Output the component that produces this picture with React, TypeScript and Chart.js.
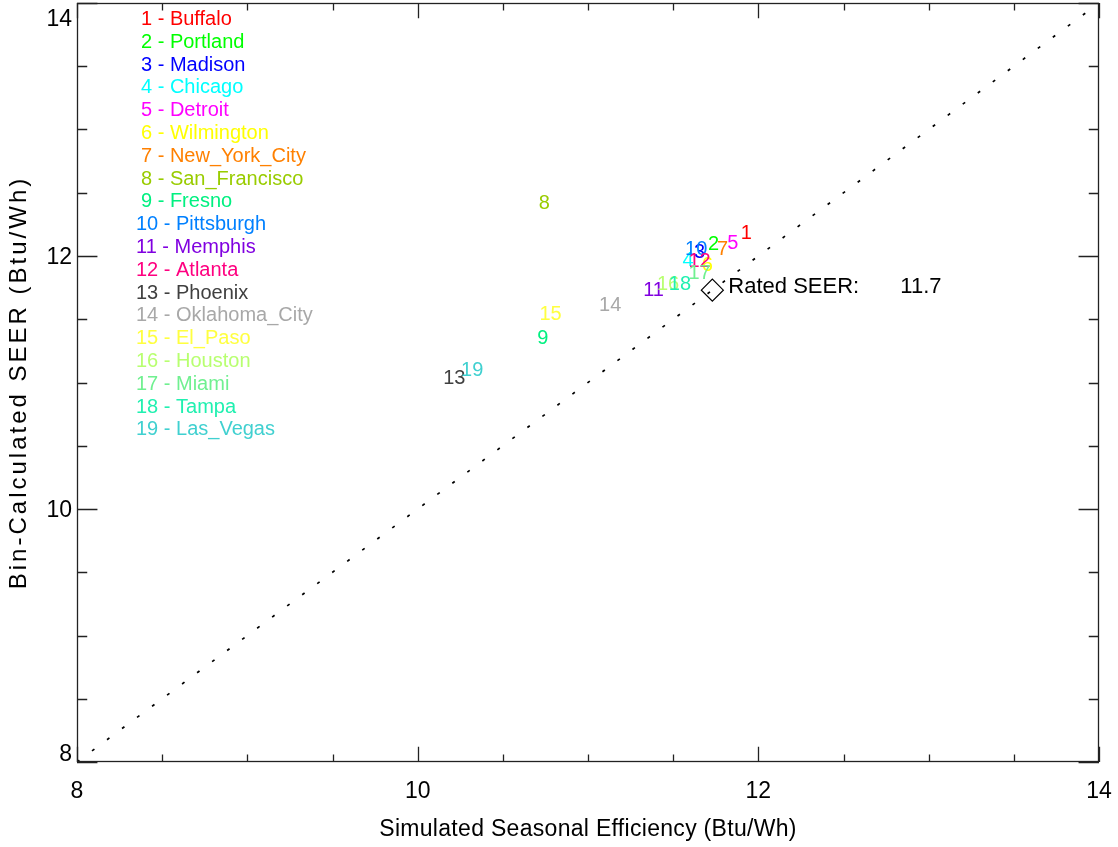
import { useEffect, useRef } from "react";
import { Chart, registerables } from "chart.js";

Chart.register(...registerables);

const cityNames = [
  "Buffalo", "Portland", "Madison", "Chicago", "Detroit", "Wilmington",
  "New_York_City", "San_Francisco", "Fresno", "Pittsburgh", "Memphis",
  "Atlanta", "Phoenix", "Oklahoma_City", "El_Paso", "Houston", "Miami",
  "Tampa", "Las_Vegas",
];
const cityColors = [
  "#ff0000", "#00ff00", "#0000ff", "#00ffff", "#ff00ff", "#ffff00",
  "#ff8000", "#99cc00", "#00f080", "#0080ff", "#8000e0", "#ff0080",
  "#404040", "#a8a8a8", "#ffff40", "#b8ff70", "#70f090", "#20f0b0",
  "#40d0d0",
];
const simulatedEff = [
  11.93, 11.737, 11.655, 11.587, 11.85, 11.70, 11.79, 10.744, 10.735, 11.635,
  11.385, 11.655, 10.215, 11.13, 10.78, 11.47, 11.655, 11.54, 10.32,
];
const binSeer = [
  12.19, 12.10, 12.04, 11.98, 12.11, 11.94, 12.06, 12.43, 11.36, 12.063,
  11.74, 11.97, 11.04, 11.62, 11.55, 11.79, 11.87, 11.79, 11.11,
];
const ratedSeer = 11.73;
const axisMin = 8;
const axisMax = 14;
const majorTicks = [8, 10, 12, 14];
const minorStep = 0.5;
const xTitle = "Simulated Seasonal Efficiency (Btu/Wh)";
const yTitle = "Bin-Calculated SEER (Btu/Wh)";

const FONT = '"Liberation Sans", Arial, Helvetica, sans-serif';

const idlPlugin = {
  id: "idlPlot",
  afterDatasetsDraw(chart: any) {
    const { ctx, chartArea: a, scales } = chart;
    const xs = scales.x;
    const ys = scales.y;
    ctx.save();
    // frame
    ctx.strokeStyle = "#222";
    ctx.lineWidth = 1.3;
    ctx.strokeRect(a.left + 0.5, a.top + 0.5, a.right - a.left - 1, a.bottom - a.top - 1);
    // ticks
    const h = a.bottom - a.top;
    const w = a.right - a.left;
    const xMajLen = 0.02 * h;
    const yMajLen = 0.02 * w;
    ctx.beginPath();
    for (let v = axisMin; v <= axisMax + 1e-9; v += minorStep) {
      const isMajor = majorTicks.some((t) => Math.abs(t - v) < 1e-9);
      const px = Math.round(xs.getPixelForValue(v)) + 0.5;
      const lx = isMajor ? xMajLen : xMajLen / 2;
      ctx.moveTo(px, a.bottom);
      ctx.lineTo(px, a.bottom - lx);
      ctx.moveTo(px, a.top);
      ctx.lineTo(px, a.top + lx);
      const py = Math.round(ys.getPixelForValue(v)) + 0.5;
      const ly = isMajor ? yMajLen : yMajLen / 2;
      ctx.moveTo(a.left, py);
      ctx.lineTo(a.left + ly, py);
      ctx.moveTo(a.right, py);
      ctx.lineTo(a.right - ly, py);
    }
    ctx.stroke();

    // tick labels
    ctx.fillStyle = "#000";
    ctx.font = `23px ${FONT}`;
    ctx.textAlign = "center";
    ctx.textBaseline = "alphabetic";
    majorTicks.forEach((t) => {
      ctx.fillText(String(t), xs.getPixelForValue(t), a.bottom + 36);
    });
    ctx.textAlign = "right";
    majorTicks.forEach((t) => {
      let py = ys.getPixelForValue(t);
      py = Math.min(Math.max(py, a.top + 15), a.bottom - 9);
      ctx.fillText(String(t), a.left - 5, py + 8);
    });

    // axis titles
    ctx.font = `23px ${FONT}`;
    ctx.textAlign = "center";
    (ctx as any).letterSpacing = "0.3px";
    ctx.fillText(xTitle, (a.left + a.right) / 2, a.bottom + 74);
    ctx.save();
    ctx.translate(26, (a.top + a.bottom) / 2);
    ctx.rotate(-Math.PI / 2);
    ctx.font = `24px ${FONT}`;
    (ctx as any).letterSpacing = "3px";
    ctx.fillText(yTitle, 0, 0);
    ctx.restore();
    (ctx as any).letterSpacing = "0px";

    // city number labels at data points
    ctx.font = `20px ${FONT}`;
    ctx.textAlign = "center";
    cityNames.forEach((_, i) => {
      const meta = chart.getDatasetMeta(i + 2);
      const el = meta.data[0];
      if (!el) return;
      ctx.fillStyle = cityColors[i];
      ctx.fillText(String(i + 1), el.x, el.y + 7);
    });

    // rated SEER text next to diamond
    const rMeta = chart.getDatasetMeta(1);
    const rEl = rMeta.data[0];
    if (rEl) {
      ctx.fillStyle = "#000";
      ctx.font = `22px ${FONT}`;
      ctx.textAlign = "left";
      ctx.fillText("Rated SEER:", rEl.x + 16, rEl.y + 3);
      ctx.fillText(ratedSeer.toFixed(1), rEl.x + 188, rEl.y + 3);
    }

    // legend list
    ctx.font = `20px ${FONT}`;
    ctx.textAlign = "left";
    cityNames.forEach((name, i) => {
      ctx.fillStyle = cityColors[i];
      const lx = i < 9 ? 141 : 136;
      const ly = 18 + i * 22.8;
      ctx.fillText(`${i + 1} - ${name}`, lx, ly + 7);
    });
    ctx.restore();
  },
};

export default function App() {
  const ref = useRef<HTMLCanvasElement | null>(null);
  useEffect(() => {
    if (!ref.current) return;
    const datasets: any[] = [
      {
        label: "diagonal",
        type: "line",
        data: [
          { x: axisMin, y: axisMin },
          { x: axisMax, y: axisMax },
        ],
        borderColor: "#000",
        borderWidth: 1.7,
        borderDash: [3, 15.7],
        pointRadius: 0,
        showLine: true,
        fill: false,
      },
      {
        label: "rated",
        type: "scatter",
        data: [{ x: ratedSeer, y: ratedSeer }],
        pointStyle: "rectRot",
        pointRadius: 11,
        borderColor: "#000",
        borderWidth: 1.2,
        backgroundColor: "rgba(0,0,0,0)",
      },
      ...cityNames.map((name, i) => ({
        label: name,
        type: "scatter",
        data: [{ x: simulatedEff[i], y: binSeer[i] }],
        pointRadius: 0,
        borderColor: cityColors[i],
        backgroundColor: cityColors[i],
      })),
    ];
    const chart = new Chart(ref.current, {
      type: "scatter",
      data: { datasets },
      options: {
        responsive: false,
        animation: false,
        layout: { autoPadding: false, padding: { left: 77, top: 3, right: 19, bottom: 85 } },
        plugins: {
          legend: { display: false },
          tooltip: { enabled: false },
          title: { display: false },
        },
        scales: {
          x: { type: "linear", min: axisMin, max: axisMax, display: false },
          y: { type: "linear", min: axisMin, max: axisMax, display: false },
        },
      },
      plugins: [idlPlugin],
    } as any);
    return () => chart.destroy();
  }, []);
  return (
    <div style={{ position: "absolute", left: 0, top: 0, width: 1118, height: 847, background: "#fff" }}>
      <canvas ref={ref} width={1118} height={847} style={{ display: "block" }} />
    </div>
  );
}
